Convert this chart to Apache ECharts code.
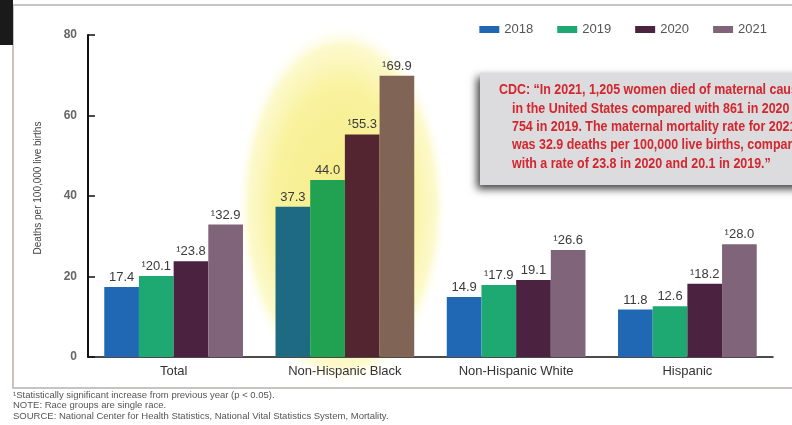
<!DOCTYPE html>
<html><head><meta charset="utf-8">
<script src="https://cdn.jsdelivr.net/npm/echarts@6/dist/echarts.min.js"></script>
<style>html,body{margin:0;padding:0;background:#fff}#c{width:792px;height:425px}</style>
</head><body><div id="c"></div>
<script>
const categories = ['Total', 'Non-Hispanic Black', 'Non-Hispanic White', 'Hispanic'];
const years = ['2018', '2019', '2020', '2021'];
const values2018 = [17.4, 37.3, 14.9, 11.8];
const values2019 = [20.1, 44.0, 17.9, 12.6];
const values2020 = [23.8, 55.3, 19.1, 18.2];
const values2021 = [32.9, 69.9, 26.6, 28.0];
const sig2018 = [false, false, false, false];
const sig2019 = [true, false, true, false];
const sig2020 = [true, true, false, true];
const sig2021 = [true, true, true, true];
const yTicks = [0, 20, 40, 60, 80];
const quoteLines = [
  'CDC: \u201cIn 2021, 1,205 women died of maternal causes',
  'in the United States compared with 861 in 2020 and',
  '754 in 2019. The maternal mortality rate for 2021',
  'was 32.9 deaths per 100,000 live births, compared',
  'with a rate of 23.8 in 2020 and 20.1 in 2019.\u201d'
];
const footnotes = [
  '\u00b9Statistically significant increase from previous year (p < 0.05).',
  'NOTE: Race groups are single race.',
  'SOURCE: National Center for Health Statistics, National Vital Statistics System, Mortality.'
];

const baseColors = ['#2168b4', '#1ea872', '#4b2340', '#80657a'];
const glowColors = ['#1e6a82', '#20a252', '#522531', '#806556'];
const glowIndex = 1;
const allValues = [values2018, values2019, values2020, values2021];
const allSig = [sig2018, sig2019, sig2020, sig2021];
const FONT = 'Liberation Sans, Arial, sans-serif';

const chart = echarts.init(document.getElementById('c'), null, {renderer: 'canvas'});
const series = years.map((y, si) => ({
  name: y,
  type: 'bar',
  barGap: '0%',
  barCategoryGap: '19%',
  itemStyle: {color: baseColors[si]},
  label: {
    show: true, position: 'top', distance: 3,
    fontFamily: FONT, fontSize: 13, color: '#3a3a3a',
    formatter: p => (allSig[si][p.dataIndex] ? '\u00b9' : '') + p.value.toFixed(1)
  },
  data: allValues[si].map((v, i) => i === glowIndex ? {value: v, itemStyle: {color: glowColors[si]}} : v)
}));

const graphics = [
  {type: 'rect', z: -10, shape: {x: 13, y: 5, width: 800, height: 383}, style: {fill: '#fff', stroke: '#c9c2bf', lineWidth: 2}},
  {type: 'rect', z: -9, shape: {x: 0, y: 0, width: 13, height: 45}, style: {fill: '#1a1a1a'}},
  {type: 'circle', z: -5, x: 342, y: 206, scaleY: 1.72, shape: {cx: 0, cy: 0, r: 106},
   style: {fill: new echarts.graphic.RadialGradient(0.5, 0.5, 0.5, [
     {offset: 0, color: 'rgba(246,236,135,1)'},
     {offset: 0.65, color: 'rgba(249,242,158,1)'},
     {offset: 0.88, color: 'rgba(252,248,195,0.85)'},
     {offset: 1, color: 'rgba(255,255,255,0)'}])}},
  {type: 'rect', z: 100, shape: {x: 480, y: 73, width: 330, height: 112},
   style: {fill: '#dcdcde', shadowBlur: 8, shadowColor: 'rgba(0,0,0,0.75)', shadowOffsetX: -3, shadowOffsetY: 4}},
  {type: 'text', z: 50, x: 38, y: 188, rotation: Math.PI / 2,
   style: {text: 'Deaths per 100,000 live births', fontFamily: FONT, fontSize: 10, fill: '#444', align: 'center', verticalAlign: 'middle'}}
];
quoteLines.forEach((t, i) => {
  graphics.push({type: 'text', z: 101, x: i === 0 ? 499 : 512, y: 90 + i * 18.4, scaleX: 0.83,
    style: {text: t, fontFamily: FONT, fontWeight: 'bold', fontSize: 15, fill: '#d3262e', verticalAlign: 'middle'}});
});
footnotes.forEach((t, i) => {
  graphics.push({type: 'text', z: 50, x: 13, y: 395 + i * 10.8,
    style: {text: t, fontFamily: FONT, fontSize: 9.5, fill: '#555', verticalAlign: 'middle'}});
});

chart.setOption({
  animation: false,
  backgroundColor: '#fff',
  grid: {left: 88, right: 19, top: 35, bottom: 68, containLabel: false},
  legend: {
    data: years, right: 20, top: 18, itemWidth: 20, itemHeight: 7, itemGap: 24,
    icon: 'rect',
    textStyle: {fontFamily: FONT, fontSize: 13, color: '#555'}
  },
  xAxis: {
    type: 'category', data: categories,
    axisLine: {lineStyle: {color: '#111', width: 1.5}},
    axisTick: {show: false},
    axisLabel: {fontFamily: FONT, fontSize: 13, color: '#333', margin: 8}
  },
  yAxis: {
    type: 'value', min: yTicks[0], max: yTicks[yTicks.length - 1], interval: 20,
    axisLine: {show: true, lineStyle: {color: '#111', width: 2}},
    axisTick: {show: true, inside: true, length: 7, lineStyle: {color: '#111', width: 1.5}},
    splitLine: {show: false},
    axisLabel: {fontFamily: FONT, fontSize: 12, fontWeight: 'bold', color: '#666', margin: 11}
  },
  series: series,
  graphic: graphics
});
</script></body></html>
